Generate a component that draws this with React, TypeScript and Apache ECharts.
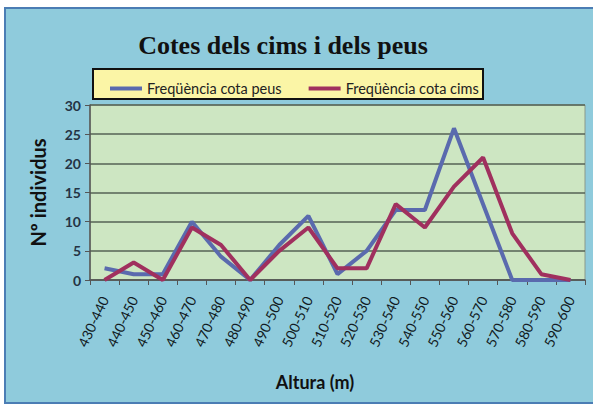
import React, { useEffect, useRef } from "react";
import * as echarts from "echarts";

const categories = ["430-440","440-450","450-460","460-470","470-480","480-490","490-500","500-510","510-520","520-530","530-540","540-550","550-560","560-570","570-580","580-590","590-600"];
const peus = [2, 1, 1, 10, 4, 0, 6, 11, 1, 5, 12, 12, 26, 13, 0, 0, 0];
const cims = [0, 3, 0, 9, 6, 0, 5, 9, 2, 2, 13, 9, 16, 21, 8, 1, 0];
const yTicks = [0, 5, 10, 15, 20, 25, 30];

export default function App() {
  const ref = useRef<HTMLDivElement>(null);
  useEffect(() => {
    const chart = echarts.init(ref.current!, undefined, { renderer: "svg" });
    chart.setOption({
      animation: false,
      graphic: [
        { type: "rect", z: -10, shape: { x: 5, y: 8, width: 600, height: 395 }, style: { fill: "#8fcbdc", stroke: "#4b7db4", lineWidth: 2 } },
        { type: "rect", z: -5, shape: { x: 93, y: 69, width: 390, height: 30 }, style: { fill: "#fbf5a6", stroke: "#111", lineWidth: 2 } },
      ],
      title: {
        text: "Cotes dels cims i dels peus",
        left: 278, textAlign: "center", top: 27,
        textStyle: { fontFamily: "Liberation Serif", fontWeight: "bold", fontSize: 26, color: "#111" },
      },
      legend: {
        left: 105, top: 76, itemWidth: 32, itemHeight: 4, itemGap: 27, icon: "rect",
        textStyle: { fontFamily: "Lato", fontSize: 14.5, color: "#222" },
        data: ["Freqüència cota peus", "Freqüència cota cims"],
      },
      grid: { left: 90, top: 105, right: 8, bottom: 127, show: true, backgroundColor: "#cde6c2", borderColor: "#8a9a8a", borderWidth: 1 },
      xAxis: {
        type: "category", data: categories, boundaryGap: true,
        axisLine: { lineStyle: { color: "#555", width: 1.5 } },
        axisTick: { show: true, length: 5, lineStyle: { color: "#555" } },
        axisLabel: { rotate: 65, fontFamily: "Lato", fontSize: 14, color: "#111a22", margin: 17, interval: 0 },
        name: "Altura (m)", nameLocation: "middle", nameGap: 93,
        nameTextStyle: { fontFamily: "Lato", fontWeight: "bold", fontSize: 18, color: "#111", padding: [0, 45, 0, 0] },
      },
      yAxis: {
        type: "value", min: 0, max: 30, interval: 5,
        axisLine: { show: true, lineStyle: { color: "#555", width: 1.5 } },
        axisTick: { show: true, length: 5, lineStyle: { color: "#555" } },
        axisLabel: { fontFamily: "Lato", fontWeight: "bold", fontSize: 14, color: "#243444", margin: 9,
          formatter: (v: number) => (yTicks.includes(v) ? String(v) : "") },
        splitLine: { lineStyle: { color: "#556255", width: 1.5 } },
        name: "Nº individus", nameLocation: "middle", nameGap: 42,
        nameTextStyle: { fontFamily: "Lato", fontWeight: "bold", fontSize: 20, color: "#111" },
      },
      series: [
        { name: "Freqüència cota peus", type: "line", data: peus, symbol: "none", lineStyle: { color: "#5a6aae", width: 4 }, itemStyle: { color: "#5a6aae" } },
        { name: "Freqüència cota cims", type: "line", data: cims, symbol: "none", lineStyle: { color: "#a0305e", width: 4 }, itemStyle: { color: "#a0305e" } },
      ],
    });
    return () => chart.dispose();
  }, []);
  return <div ref={ref} style={{ position: "absolute", left: 0, top: 0, width: 593, height: 407 }} />;
}
